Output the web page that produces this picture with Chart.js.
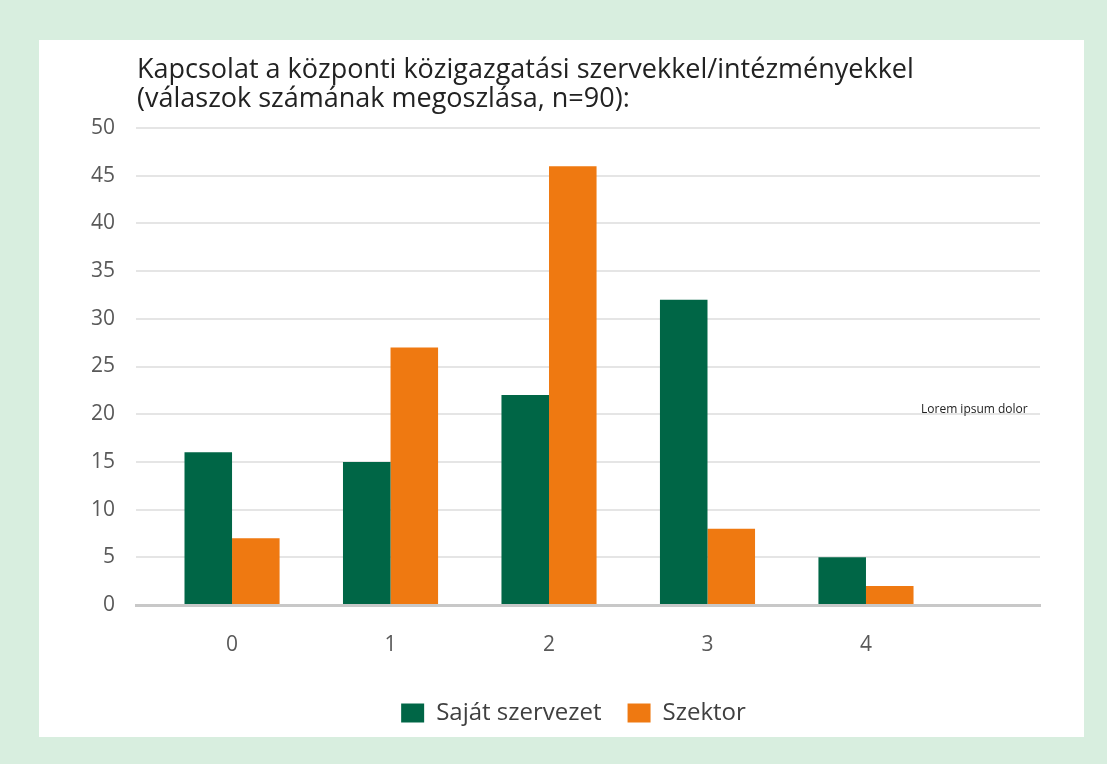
<!DOCTYPE html>
<html>
<head>
<meta charset="utf-8">
<script src="https://cdn.jsdelivr.net/npm/chart.js@4/dist/chart.umd.min.js"></script>
<style>
  html, body { margin: 0; padding: 0; }
  body { width: 1107px; height: 764px; background: #d8eedf; position: relative; overflow: hidden; }
  #panel { position: absolute; left: 39px; top: 40px; width: 1045px; height: 697px; background: #fff; }
  canvas { display: block; }
</style>
</head>
<body>
<div id="panel"><canvas id="chart" width="1045" height="697"></canvas></div>
<script>
// data
const categories = ['0', '1', '2', '3', '4'];
const sajat = [16, 15, 22, 32, 5];
const szektor = [7, 27, 46, 8, 2];
const yTicks = [0, 5, 10, 15, 20, 25, 30, 35, 40, 45, 50];
const titleLines = ['Kapcsolat a központi közigazgatási szervekkel/intézményekkel',
                    '(válaszok számának megoszlása, n=90):'];
const noteText = 'Lorem ipsum dolor';

const FONT = '"Open Sans", "Noto Sans", sans-serif';

// title + stray note text
const textPlugin = {
    id: 'texts',
    afterLayout(chart) {
        // legend in the original sits a bit right of centre
        if (chart.legend) {
            chart.legend.left += 34;
            chart.legend.right += 34;
        }
    },
    afterDraw(chart) {
        const ctx = chart.ctx;
        ctx.save();
        ctx.fillStyle = '#222';
        ctx.textAlign = 'left';
        ctx.textBaseline = 'alphabetic';
        ctx.font = '27px ' + FONT;
        ctx.fillText(titleLines[0], 98, 38);
        ctx.fillText(titleLines[1], 98, 67);
        ctx.font = '12px ' + FONT;
        ctx.fillText(noteText, 882, 373);
        ctx.restore();
    }
};

const toPoints = vals => vals.map((v, i) => ({ x: i, y: v }));

new Chart(document.getElementById('chart'), {
    type: 'bar',
    data: {
        datasets: [
            { label: 'Saját szervezet', data: toPoints(sajat), backgroundColor: '#006646',
              categoryPercentage: 0.6, barPercentage: 1.0 },
            { label: 'Szektor', data: toPoints(szektor), backgroundColor: '#ef7911',
              categoryPercentage: 0.6, barPercentage: 1.0 }
        ]
    },
    options: {
        responsive: false,
        animation: false,
        layout: { padding: { top: 88, right: 44, bottom: 2, left: 0 } },
        plugins: {
            title: { display: false },
            tooltip: { enabled: false },
            legend: {
                position: 'bottom',
                labels: {
                    boxWidth: 23, boxHeight: 19, padding: 26,
                    color: '#404040',
                    font: { family: FONT, size: 24 }
                }
            }
        },
        scales: {
            x: {
                type: 'linear',
                min: -0.606,
                max: 5.098,
                offset: false,
                afterBuildTicks: axis => { axis.ticks = categories.map((c, i) => ({ value: i })); },
                afterFit: axis => { axis.height = 70; },
                grid: { display: false, drawTicks: false },
                border: { display: true, color: '#c8c8c8', width: 3 },
                ticks: {
                    padding: 27,
                    color: '#595959',
                    font: { family: FONT, size: 21 },
                    callback: v => categories[v] ?? ''
                }
            },
            y: {
                min: 0,
                max: 50,
                afterBuildTicks: axis => { axis.ticks = yTicks.map(v => ({ value: v })); },
                afterFit: axis => { axis.width = 97; },
                grid: { color: '#e5e5e5', lineWidth: 2, drawTicks: false },
                border: { display: false },
                ticks: {
                    padding: 21,
                    color: '#595959',
                    font: { family: FONT, size: 21 }
                }
            }
        }
    },
    plugins: [textPlugin]
});
</script>
</body>
</html>
